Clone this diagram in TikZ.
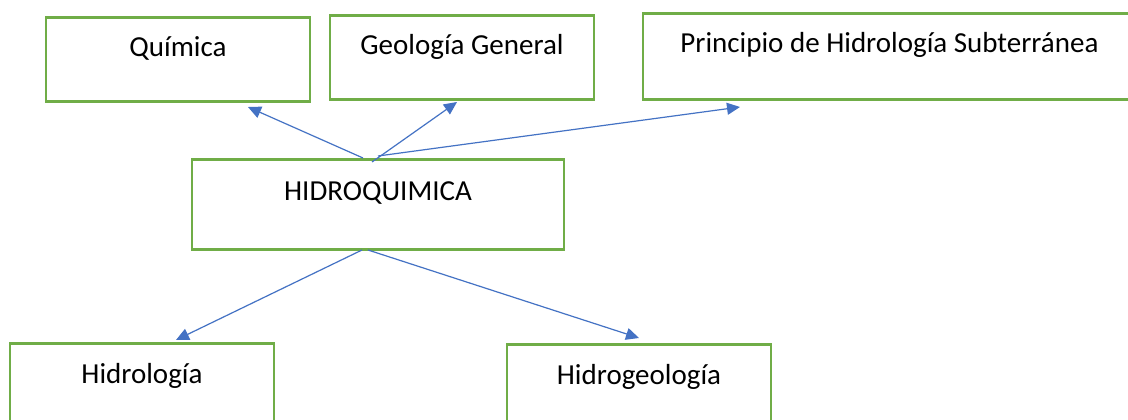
\documentclass[tikz,border=0pt]{standalone}
\usepackage{fontspec}
\setmainfont{Carlito}
\usetikzlibrary{arrows.meta}
\definecolor{boxgreen}{HTML}{70AD47}
\definecolor{arrowblue}{HTML}{4472C4}
\begin{document}
\begin{tikzpicture}[x=1pt,y=-1pt,
  box/.style={draw=boxgreen, line width=2.8pt, inner sep=0pt, anchor=north,
    text height=39pt, text depth=45pt, font=\fontsize{29}{34}\selectfont},
  link/.style={draw=arrowblue, line width=1.2pt, -{Triangle[length=13pt,width=12pt]}}]
\fill[white] (0,0) rectangle (1128,420);
\useasboundingbox (0,0) rectangle (1128,420);
\clip (0,0) rectangle (1128,420);
\node[box, minimum width=264pt] (q) at (178,16) {Química};
\node[box, minimum width=264pt] (g) at (462,14) {Geología General};
\node[box, minimum width=493pt, text depth=47pt] (p) at (889.5,12) {Principio de Hidrología Subterránea};
\node[box, minimum width=372pt, text height=41pt, text depth=49pt] (h) at (378,158) {HIDROQUIMICA};
\node[box, minimum width=264pt, text height=40pt, text depth=90pt] (hl) at (142,342) {Hidrología};
\node[box, minimum width=264pt, text height=40pt, text depth=90pt] (hg) at (639,343) {Hidrogeología};
\coordinate (s1) at (363,158);
\coordinate (s2) at (372,162);
\coordinate (s3) at (378,156);
\coordinate (s4) at (362,250);
\coordinate (s5) at (368,250);
\coordinate (t1) at (248,107);
\coordinate (t2) at (457,102);
\coordinate (t3) at (740,107);
\coordinate (t4) at (176,340);
\coordinate (t5) at (639,338);
\draw[link] (s1) -- (t1);
\draw[link] (s2) -- (t2);
\draw[link] (s3) -- (t3);
\draw[link] (s4) -- (t4);
\draw[link] (s5) -- (t5);
\end{tikzpicture}
\end{document}
